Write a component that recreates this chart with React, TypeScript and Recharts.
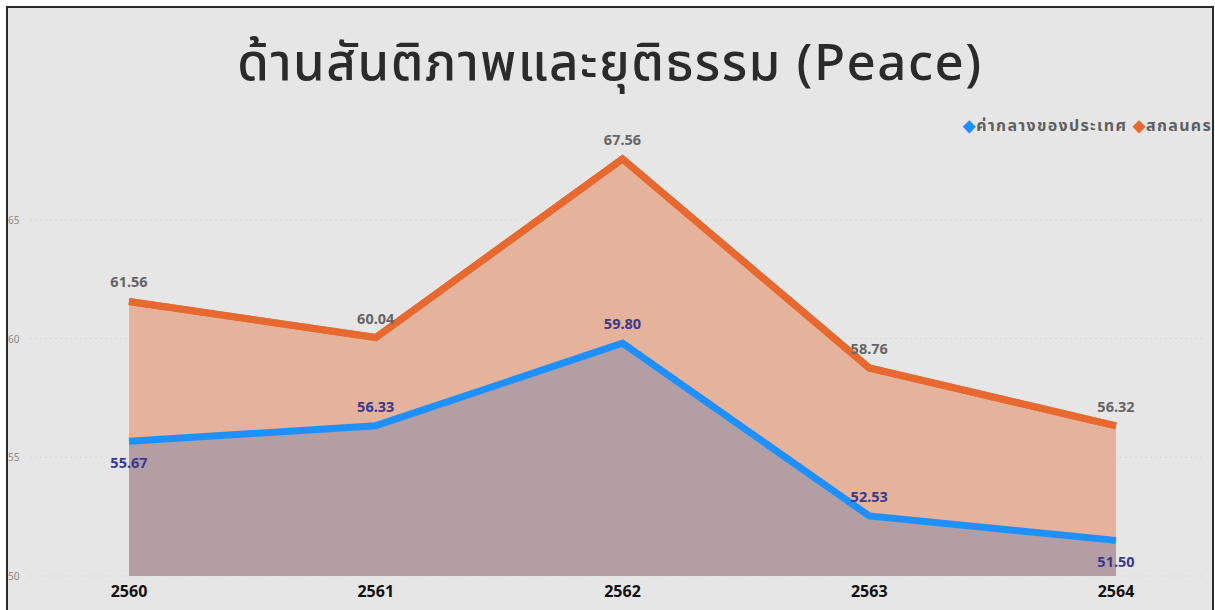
import { ComposedChart, Area, XAxis, YAxis, CartesianGrid, LabelList } from "recharts";

const years = ["2560", "2561", "2562", "2563", "2564"];
const sakonNakhon = [61.56, 60.04, 67.56, 58.76, 56.32];
const nationalMedian = [55.67, 56.33, 59.8, 52.53, 51.5];
const yTicks = [50, 55, 60, 65];

const data = years.map((y, i) => ({ year: y, sakon: sakonNakhon[i], national: nationalMedian[i] }));

const FONT = "'Noto Sans', 'Noto Sans Thai', Tahoma, sans-serif";

function YTick(props: any) {
  const { y, payload } = props;
  return (
    <text x={0} y={y} dy={4} fill="#8a8a8a" fontSize={10} fontFamily={FONT} textAnchor="start">
      {payload.value}
    </text>
  );
}

function XTick(props: any) {
  const { x, y, payload } = props;
  return (
    <text x={x} y={y} dy={13} fill="#111" fontSize={16} fontWeight="bold" fontFamily={FONT} textAnchor="middle">
      {payload.value}
    </text>
  );
}

// values sit above the line, except the first/last blue points which go below
const makeLabel = (color: string, belowIdx: number[]) => (props: any) => {
  const { x, y, value, index } = props;
  const below = belowIdx.includes(index);
  return (
    <text
      x={x}
      y={below ? y + 27 : y - 14}
      fill={color}
      fontSize={14.5}
      fontWeight="bold"
      fontFamily={FONT}
      textAnchor="middle"
    >
      {Number(value).toFixed(2)}
    </text>
  );
};

export default function App() {
  return (
    <div style={{ position: "absolute", left: 0, top: 0, width: 1215, height: 610, background: "#fff", overflow: "hidden" }}>
      <div
        style={{
          position: "absolute", left: 6, top: 6, width: 1204, height: 610,
          border: "2px solid #2b2b2b", background: "#E6E6E6",
        }}
      >
        <div
          style={{
            position: "absolute", left: 0, top: 17, width: 1204, textAlign: "center",
            fontFamily: FONT, fontSize: 51, color: "#2b2b2b", fontWeight: 500, letterSpacing: 1.5,
          }}
        >
          ด้านสันติภาพและยุติธรรม (Peace)
        </div>
        <div
          style={{
            position: "absolute", right: 0, top: 106, fontFamily: FONT, fontSize: 16,
            fontWeight: "bold", color: "#606060", whiteSpace: "nowrap", letterSpacing: 1.3,
          }}
        >
          <span style={{ color: "#1E90FF" }}>◆</span>ค่ากลางของประเทศ{" "}
          <span style={{ color: "#E8692F" }}>◆</span>สกลนคร
        </div>
        <ComposedChart
          width={1204}
          height={602}
          data={data}
          margin={{ top: 93, right: 7, bottom: 4, left: 0 }}
          style={{ position: "absolute", left: 0, top: 0 }}
        >
          <CartesianGrid vertical={false} horizontalValues={yTicks} stroke="#d8d8d8" strokeDasharray="2 3" />
          <XAxis
            dataKey="year"
            axisLine={false}
            tickLine={false}
            height={30}
            tick={<XTick />}
            padding={{ left: 99, right: 89 }}
          />
          <YAxis
            domain={[50, 70]}
            ticks={yTicks}
            axisLine={false}
            tickLine={false}
            width={22}
            tick={<YTick />}
          />
          <Area
            type="linear"
            dataKey="sakon"
            stroke="#E8692F"
            strokeWidth={7}
            fill="#E5B29B"
            fillOpacity={1}
            baseValue={50}
            dot={false}
            activeDot={false}
            isAnimationActive={false}
          />
          <Area
            type="linear"
            dataKey="national"
            stroke="#1E90FF"
            strokeWidth={7}
            fill="#B29EA3"
            fillOpacity={1}
            baseValue={50}
            dot={false}
            activeDot={false}
            isAnimationActive={false}
          >
            <LabelList dataKey="national" content={makeLabel("#3A3A8C", [0, 4])} />
          </Area>
          {/* redraw the orange line on top so the blue fill doesn't cover it */}
          <Area
            type="linear"
            dataKey="sakon"
            stroke="#E8692F"
            strokeWidth={7}
            fill="none"
            dot={false}
            activeDot={false}
            isAnimationActive={false}
          >
            <LabelList dataKey="sakon" content={makeLabel("#666666", [])} />
          </Area>
        </ComposedChart>
      </div>
    </div>
  );
}
